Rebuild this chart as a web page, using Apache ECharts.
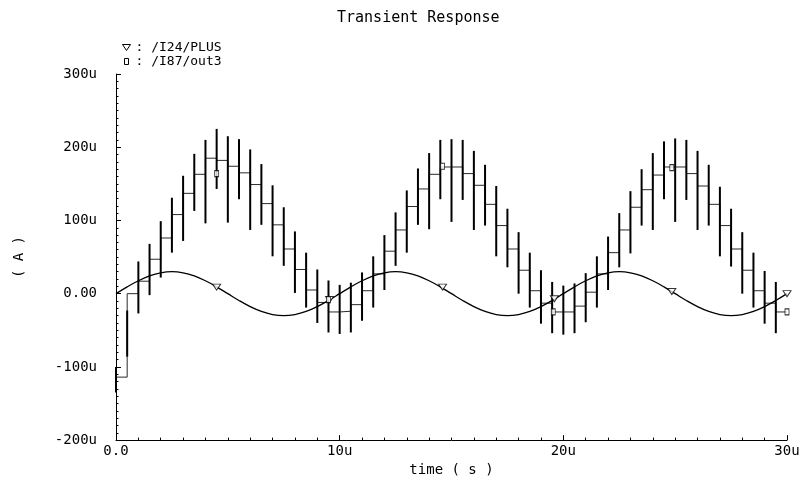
<!DOCTYPE html>
<html>
<head>
<meta charset="utf-8">
<script src="https://cdn.jsdelivr.net/npm/echarts@6/dist/echarts.min.js"></script>
<style>
html,body{margin:0;padding:0;background:#fff;}
#chart{width:805px;height:482px;}
</style>
</head>
<body>
<div id="chart"></div>
<script>
// ---- data (units: x in µs, y in µA) ----
var xTickLabels = ['0.0', '10u', '20u', '30u'];
var yTickLabels = ['-200u', '-100u', '0.00', '100u', '200u', '300u'];

// sine-like signal /I24/PLUS sampled every 0.5u
var sineT = [0,0.5,1,1.5,2,2.5,3,3.5,4,4.5,5,5.5,6,6.5,7,7.5,8,8.5,9,9.5,
             10,10.5,11,11.5,12,12.5,13,13.5,14,14.5,15,15.5,16,16.5,17,17.5,18,18.5,19,19.5,
             20,20.5,21,21.5,22,22.5,23,23.5,24,24.5,25,25.5,26,26.5,27,27.5,28,28.5,29,29.5,30];
var sineV = [0,9.3,17.6,24.3,28.5,30,28.5,24.3,17.6,9.3,0,-9.3,-17.6,-24.3,-28.5,-30,-28.5,-24.3,-17.6,-9.3,
             0,9.3,17.6,24.3,28.5,30,28.5,24.3,17.6,9.3,0,-9.3,-17.6,-24.3,-28.5,-30,-28.5,-24.3,-17.6,-9.3,
             0,9.3,17.6,24.3,28.5,30,28.5,24.3,17.6,9.3,0,-9.3,-17.6,-24.3,-28.5,-30,-28.5,-24.3,-17.6,-9.3,0];

// staircase signal /I87/out3: step times, held level after each step, glitch range at each step
var stepT = [0,0.5,1,1.5,2,2.5,3,3.5,4,4.5,5,5.5,6,6.5,7,7.5,8,8.5,9,9.5,
             10,10.5,11,11.5,12,12.5,13,13.5,14,14.5,15,15.5,16,16.5,17,17.5,18,18.5,19,19.5,
             20,20.5,21,21.5,22,22.5,23,23.5,24,24.5,25,25.5,26,26.5,27,27.5,28,28.5,29,29.5];
var stepLevel = [-114,0,17,47,76,108,137,163,185,182,174,165,149,123,94,61,33,5,-12,-25,
                 -24,-15,4,27,58,87,119,143,163,173,173,164,148,122,93,61,32,4,-13,-25,
                 -25,-17,2,27,56,87,118,142,162,173,173,164,147,122,93,61,32,4,-13,-25];
var spikeLow = [-135,-86,-27,-2,22,56,72,113,96,143,97,129,87,94,51,38,1,-19,-40,-53,
                -55,-53,-37,-19,5,38,56,94,88,129,98,128,87,93,51,36,0,-19,-41,-54,
                -56,-54,-39,-19,5,36,55,93,87,129,98,128,87,93,51,37,0,-19,-41,-54];
var spikeHigh = [-100,-23,44,68,99,131,161,191,210,225,215,211,197,177,148,118,85,56,33,18,
                 12,15,29,51,80,111,141,171,192,210,211,210,195,176,147,116,84,56,32,16,
                 11,14,28,51,78,110,140,170,192,208,212,210,195,176,146,116,84,56,31,16];
var endT = 30;

// markers
var triT = [4.5, 9.55, 14.6, 19.6, 24.85, 30];
var triV = [9, -8, 9, -7, 3, 0];
var sqT = [4.5, 9.5, 14.6, 19.55, 24.85, 30];
var sqV = [164, -8, 174, -25, 172, -25];

// ---- build ----
var sineData = sineT.map(function (t, i) { return [t, sineV[i]]; });
var stepData = stepT.map(function (t, i) { return [t, stepLevel[i]]; });
stepData.push([endT, stepLevel[stepLevel.length - 1]]);
var spikeData = stepT.map(function (t, i) { return [t, spikeLow[i], spikeHigh[i]]; });
var triData = triT.map(function (t, i) { return [t, triV[i]]; });
var sqData = sqT.map(function (t, i) { return [t, sqV[i]]; });

var FONT = 'DejaVu Sans Mono';
var chart = echarts.init(document.getElementById('chart'), null, {renderer: 'canvas'});
chart.setOption({
  backgroundColor: '#fff',
  animation: false,
  title: {
    text: 'Transient Response',
    left: 337, top: 11, padding: 0,
    textStyle: {fontFamily: FONT, fontSize: 15, fontWeight: 'normal', color: '#000'}
  },
  legend: {
    orient: 'vertical', left: 122, top: 41, padding: 0,
    itemWidth: 8, itemHeight: 6, itemGap: 1,
    selectedMode: false,
    textStyle: {fontFamily: FONT, fontSize: 13, color: '#000', lineHeight: 13},
    formatter: function (n) { return ': ' + n; },
    data: [
      {name: '/I24/PLUS', icon: 'path://M0,0L8,0L4,6Z',
       itemStyle: {color: '#fff', borderColor: '#000', borderWidth: 1}},
      {name: '/I87/out3', icon: 'path://M0,0L4,0L4,6L0,6Z',
       itemStyle: {color: '#fff', borderColor: '#000', borderWidth: 1}}
    ]
  },
  grid: {left: 116, right: 18, top: 74, bottom: 34},
  xAxis: {
    type: 'value', min: 0, max: 30, interval: 10,
    name: 'time ( s )', nameLocation: 'middle', nameGap: 14,
    nameTextStyle: {fontFamily: FONT, fontSize: 14, color: '#000', verticalAlign: 'top'},
    axisLine: {onZero: false, lineStyle: {color: '#000', width: 1}},
    axisTick: {inside: true, length: 5, lineStyle: {color: '#000'}},
    minorTick: {show: true, splitNumber: 10, length: 2.5, lineStyle: {color: '#000'}},
    splitLine: {show: false},
    axisLabel: {
      margin: 4, fontFamily: FONT, fontSize: 14, color: '#000',
      formatter: function (v) { return xTickLabels[Math.round(v / 10)]; }
    }
  },
  yAxis: {
    type: 'value', min: -200, max: 300, interval: 100,
    name: '( A )', nameLocation: 'middle', nameGap: 90, nameRotate: 90,
    nameTextStyle: {fontFamily: FONT, fontSize: 14, color: '#000'},
    axisLine: {onZero: false, lineStyle: {color: '#000', width: 1}},
    axisTick: {inside: true, length: 5, lineStyle: {color: '#000'}},
    minorTick: {show: true, splitNumber: 10, length: 2.5, lineStyle: {color: '#000'}},
    splitLine: {show: false},
    axisLabel: {
      margin: 19, fontFamily: FONT, fontSize: 14, color: '#000',
      padding: [0, 0, 9, 0],
      formatter: function (v) { return yTickLabels[Math.round((v + 200) / 100)]; }
    }
  },
  series: [
    {
      name: '/I87/out3', type: 'line', step: 'end', data: stepData,
      showSymbol: false, symbol: 'none', z: 2,
      lineStyle: {color: '#2a2a2a', width: 1},
      itemStyle: {color: '#fff', borderColor: '#000'}
    },
    {
      name: 'spikes', type: 'custom', data: spikeData, z: 3,
      encode: {x: 0, y: [1, 2]},
      renderItem: function (params, api) {
        var p1 = api.coord([api.value(0), api.value(1)]);
        var p2 = api.coord([api.value(0), api.value(2)]);
        return {type: 'line', shape: {x1: p1[0], y1: p1[1], x2: p2[0], y2: p2[1]},
                style: {stroke: '#000', lineWidth: 2}};
      }
    },
    {
      name: '/I24/PLUS', type: 'line', data: sineData, smooth: 0.4,
      showSymbol: false, symbol: 'none', z: 4,
      lineStyle: {color: '#000', width: 1.3},
      itemStyle: {color: '#fff', borderColor: '#000'}
    },
    {
      name: 'triMarks', type: 'scatter', data: triData, z: 5,
      symbol: 'triangle', symbolRotate: 180, symbolSize: [8, 6],
      itemStyle: {color: '#fff', borderColor: '#000', borderWidth: 1}
    },
    {
      name: 'sqMarks', type: 'scatter', data: sqData, z: 5,
      symbol: 'rect', symbolSize: [4, 6],
      itemStyle: {color: '#fff', borderColor: '#000', borderWidth: 1}
    }
  ]
});
</script>
</body>
</html>
